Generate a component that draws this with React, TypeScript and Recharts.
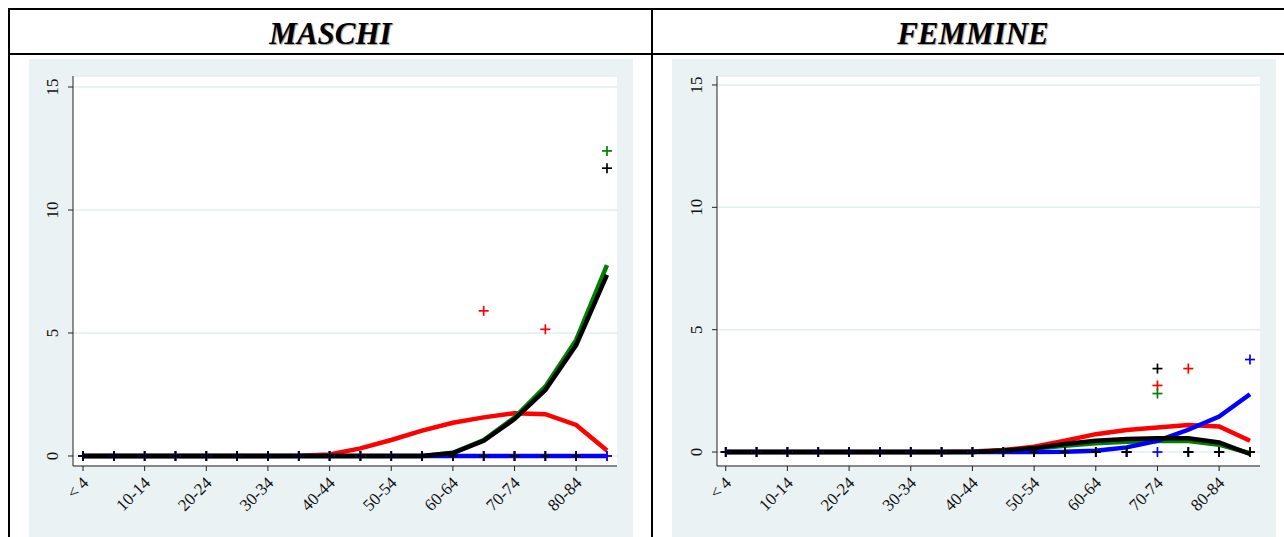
import { ComposedChart, Line, Scatter, XAxis, YAxis, CartesianGrid } from "recharts";

// age classes (every other one is labelled)
const AGE_GROUPS = [
  "< 4", "5-9", "10-14", "15-19", "20-24", "25-29", "30-34", "35-39", "40-44",
  "45-49", "50-54", "55-59", "60-64", "65-69", "70-74", "75-79", "80-84", "85+",
];
const X_TICKS = [0, 2, 4, 6, 8, 10, 12, 14, 16];
const Y_TICKS = [0, 5, 10, 15];

// MASCHI - fitted lines
const M_RED = [0, 0, 0, 0, 0, 0, 0, 0.01, 0.06, 0.31, 0.65, 1.03, 1.35, 1.57, 1.74, 1.7, 1.26, 0.22];
const M_GREEN = [0, 0, 0, 0, 0, 0, 0, 0, 0, 0, 0, 0, 0.13, 0.65, 1.56, 2.82, 4.72, 7.76];
const M_BLUE = [0, 0, 0, 0, 0, 0, 0, 0, 0, 0, 0, 0, 0, 0, 0, 0, 0, 0];
const M_BLACK = [0, 0, 0, 0, 0, 0, 0, 0, 0, 0, 0, 0, 0.12, 0.62, 1.5, 2.68, 4.51, 7.36];
// MASCHI - observed
const M_RED_OBS = [0, 0, 0, 0, 0, 0, 0, 0, 0, 0, 0, 0, 0, 5.9, 0, 5.15, 0, 0];
const M_GREEN_OBS = [0, 0, 0, 0, 0, 0, 0, 0, 0, 0, 0, 0, 0, 0, 0, 0, 0, 12.4];
const M_BLUE_OBS = [0, 0, 0, 0, 0, 0, 0, 0, 0, 0, 0, 0, 0, 0, 0, 0, 0, 0];
const M_BLACK_OBS = [0, 0, 0, 0, 0, 0, 0, 0, 0, 0, 0, 0, 0, 0, 0, 0, 0, 11.7];

// FEMMINE - fitted lines
const F_RED = [0, 0, 0, 0, 0, 0, 0, 0, 0.02, 0.08, 0.22, 0.46, 0.73, 0.9, 1.0, 1.1, 1.04, 0.46];
const F_GREEN = [0, 0, 0, 0, 0, 0, 0, 0, 0, 0.05, 0.14, 0.26, 0.36, 0.42, 0.45, 0.45, 0.3, -0.05];
const F_BLUE = [0, 0, 0, 0, 0, 0, 0, 0, 0, 0, 0, 0.01, 0.05, 0.19, 0.46, 0.91, 1.45, 2.36];
const F_BLACK = [0, 0, 0, 0, 0, 0, 0, 0, 0, 0.06, 0.16, 0.33, 0.46, 0.53, 0.56, 0.56, 0.39, -0.08];
// FEMMINE - observed
const F_RED_OBS = [0, 0, 0, 0, 0, 0, 0, 0, 0, 0, 0, 0, 0, 0, 2.72, 3.41, 0, 0];
const F_GREEN_OBS = [0, 0, 0, 0, 0, 0, 0, 0, 0, 0, 0, 0, 0, 0, 2.39, 0, 0, 0];
const F_BLUE_OBS = [0, 0, 0, 0, 0, 0, 0, 0, 0, 0, 0, 0, 0, 0, 0, 0, 0, 3.78];
const F_BLACK_OBS = [0, 0, 0, 0, 0, 0, 0, 0, 0, 0, 0, 0, 0, 0, 3.41, 0, 0, 0];

const RED = "#ff0000";
const GREEN = "#008000";
const BLUE = "#0000ff";
const BLACK = "#000000";
const PANEL_BG = "#eaf2f3";
const FONT = "'Liberation Serif', 'Times New Roman', serif";

function rows(lines: number[][], obs: number[][]) {
  return AGE_GROUPS.map((age, i) => ({
    i,
    age,
    red: lines[0][i],
    green: lines[1][i],
    blue: lines[2][i],
    black: lines[3][i],
    redObs: obs[0][i],
    greenObs: obs[1][i],
    blueObs: obs[2][i],
    blackObs: obs[3][i],
  }));
}

const MALE = rows([M_RED, M_GREEN, M_BLUE, M_BLACK], [M_RED_OBS, M_GREEN_OBS, M_BLUE_OBS, M_BLACK_OBS]);
const FEMALE = rows([F_RED, F_GREEN, F_BLUE, F_BLACK], [F_RED_OBS, F_GREEN_OBS, F_BLUE_OBS, F_BLACK_OBS]);

const plus = (color: string) => (props: any) => {
  const { cx, cy } = props;
  if (cx == null || cy == null) return <g />;
  return (
    <g>
      <line x1={cx - 5} x2={cx + 5} y1={cy} y2={cy} stroke={color} strokeWidth={1.7} />
      <line x1={cx} x2={cx} y1={cy - 5} y2={cy + 5} stroke={color} strokeWidth={1.7} />
    </g>
  );
};

const XTick = ({ x, y, payload }: any) => (
  <text
    transform={`translate(${x + 6.5},${y + 13}) rotate(-45)`}
    textAnchor="end"
    fontFamily={FONT}
    fontSize={17}
    fill="#111"
  >
    {AGE_GROUPS[payload.value]}
  </text>
);

const YTick = ({ x, y, payload }: any) => (
  <text
    transform={`translate(${x},${y}) rotate(-90)`}
    textAnchor="middle"
    fontFamily={FONT}
    fontSize={17}
    fill="#111"
  >
    {payload.value}
  </text>
);

function Panel({ data, yDomain, xDomain, left }: any) {
  return (
    <ComposedChart
      width={604}
      height={478}
      data={data}
      margin={{ top: 17, right: 16, bottom: 0, left: 0 }}
      style={{ background: PANEL_BG }}
    >
      <CartesianGrid vertical={false} stroke="#e4eef0" strokeWidth={1.5} fill="#ffffff" />
      <XAxis
        type="number"
        dataKey="i"
        domain={xDomain}
        ticks={X_TICKS}
        interval={0}
        height={71}
        tickSize={5}
        tickMargin={0}
        stroke="#222"
        tick={<XTick />}
      />
      <YAxis
        type="number"
        domain={yDomain}
        ticks={Y_TICKS}
        allowDataOverflow
        width={left}
        tickSize={5}
        tickMargin={10}
        stroke="#222"
        tick={<YTick />}
      />
      <Line dataKey="red" stroke={RED} strokeWidth={4.5} dot={false} isAnimationActive={false} />
      <Line dataKey="green" stroke={GREEN} strokeWidth={4.5} dot={false} isAnimationActive={false} />
      <Line dataKey="blue" stroke={BLUE} strokeWidth={4.5} dot={false} isAnimationActive={false} />
      <Line dataKey="black" stroke={BLACK} strokeWidth={4.5} dot={false} isAnimationActive={false} />
      <Scatter dataKey="redObs" shape={plus(RED)} isAnimationActive={false} />
      <Scatter dataKey="greenObs" shape={plus(GREEN)} isAnimationActive={false} />
      <Scatter dataKey="blueObs" shape={plus(BLUE)} isAnimationActive={false} />
      <Scatter dataKey="blackObs" shape={plus(BLACK)} isAnimationActive={false} />
    </ComposedChart>
  );
}

const headerStyle: any = {
  position: "absolute",
  top: 12,
  height: 41,
  lineHeight: "43px",
  textAlign: "center",
  fontFamily: "'Liberation Serif', 'Times New Roman', serif",
  fontWeight: 700,
  fontStyle: "italic",
  fontSize: 31,
  color: "#000",
  textShadow: "1px 1px 1px #999",
};

export default function App() {
  return (
    <div
      style={{
        position: "absolute",
        left: 0,
        top: 0,
        width: 1284,
        height: 537,
        overflow: "hidden",
        background: "#fff",
      }}
    >
      {/* table borders */}
      <div style={{ position: "absolute", left: 8, top: 8, width: 1276, height: 2, background: "#000" }} />
      <div style={{ position: "absolute", left: 8, top: 53, width: 1276, height: 2, background: "#000" }} />
      <div style={{ position: "absolute", left: 8, top: 8, width: 2, height: 529, background: "#000" }} />
      <div style={{ position: "absolute", left: 651, top: 8, width: 2, height: 529, background: "#000" }} />

      <div style={{ ...headerStyle, left: 10, width: 641 }}>MASCHI</div>
      <div style={{ ...headerStyle, left: 653, width: 640 }}>FEMMINE</div>

      <div style={{ position: "absolute", left: 29, top: 59 }}>
        <Panel data={MALE} yDomain={[-0.407, 15.447]} xDomain={[-0.325, 17.325]} left={44} />
      </div>
      <div style={{ position: "absolute", left: 672, top: 59 }}>
        <Panel data={FEMALE} yDomain={[-0.571, 15.367]} xDomain={[-0.283, 17.325]} left={45} />
      </div>
    </div>
  );
}
